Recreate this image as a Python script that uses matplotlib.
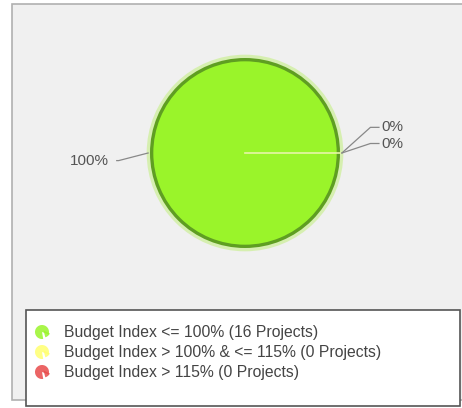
import numpy as np
import matplotlib.pyplot as plt
from matplotlib.patches import Rectangle, Circle, Wedge

categories = ['Budget Index <= 100%', 'Budget Index > 100% & <= 115%', 'Budget Index > 115%']
projects = [16, 0, 0]
colors = ['#9af42a', '#ffff70', '#e84a4a']
pct_labels = ['100%', '0%', '0%']

plt.rcParams['font.family'] = ['Liberation Sans', 'DejaVu Sans']

fig = plt.figure(figsize=(4.62, 4.08), dpi=100)
fig.patch.set_facecolor('white')

# background layer in pixel coords
bg = fig.add_axes([0, 0, 1, 1])
bg.set_xlim(0, 462)
bg.set_ylim(408, 0)
bg.axis('off')
bg.add_patch(Rectangle((12, 4), 470, 396, fc='#f0f0f0', ec='#b0b0b0', lw=1.2))
bg.add_patch(Rectangle((26, 310), 434, 96, fc='white', ec='#555555', lw=1.2, zorder=2))

# legend rows
for i, (cat, n, c) in enumerate(zip(categories, projects, colors)):
    y = 332 + i * 20
    bg.add_patch(Wedge((42, y), 7, 80, 380, fc=c, ec='none', alpha=0.85, zorder=3))
    bg.add_patch(Wedge((43.5, y - 1.5), 7, 25, 75, fc=c, ec='none', alpha=0.85, zorder=3))
    bg.text(64, y, '{} ({} Projects)'.format(cat, n), fontsize=11.3, color='#444444',
            va='center', ha='left', zorder=4)

# pie: center (245,153) px, radius 95 px
cx, cy, r = 245, 153, 95
pie_ax = fig.add_axes([(cx - 100) / 462, (408 - cy - 100) / 408, 200 / 462, 200 / 408])
pie_ax.axis('off')
pie_ax.patch.set_alpha(0)

pie_ax.add_patch(Circle((0, 0), 1.035, fc='#d6efb0', ec='none', zorder=0))
pie_ax.add_patch(Circle((0, 0), 1.0, fc='#5f9e22', ec='none', zorder=1))
wedges, _ = pie_ax.pie(projects, colors=colors, radius=0.965, startangle=0,
                       counterclock=True, wedgeprops=dict(ec='none'))
for w in wedges:
    w.set_zorder(2)
pie_ax.plot([0, 1.0], [0, 0], color='#e6f5a8', lw=1.2, zorder=3)

# labels with leader lines
total = sum(projects)
start = 0.0
offsets = [(0, 0), (0.3, 0.27), (0.3, 0.1)]
for i, (v, lab) in enumerate(zip(projects, pct_labels)):
    span = 360.0 * v / total
    mid = np.deg2rad(start + span / 2)
    start += span
    ax0, ay0 = np.cos(mid) * 1.02, np.sin(mid) * 1.02
    if np.cos(mid) < 0:
        ex, ey = ax0 - 0.31, ay0 - 0.08
        pie_ax.plot([ax0, ex, ex - 0.02], [ay0, ey, ey], color='#888888', lw=0.9,
                    zorder=4, clip_on=False)
        pie_ax.text(ex - 0.1, ey, lab, fontsize=11, color='#555555', ha='right', va='center')
    else:
        dx, dy = offsets[i]
        ex, ey = ax0 + dx, ay0 + dy
        pie_ax.plot([ax0, ex, ex + 0.09], [ay0, ey, ey], color='#888888', lw=0.9,
                    zorder=4, clip_on=False)
        pie_ax.text(ex + 0.12, ey, lab, fontsize=11, color='#555555', ha='left', va='center')

pie_ax.set_xlim(-200 / 190, 200 / 190)
pie_ax.set_ylim(-200 / 190, 200 / 190)
pie_ax.set_aspect('equal')

fig.savefig('out.png', dpi=100)
